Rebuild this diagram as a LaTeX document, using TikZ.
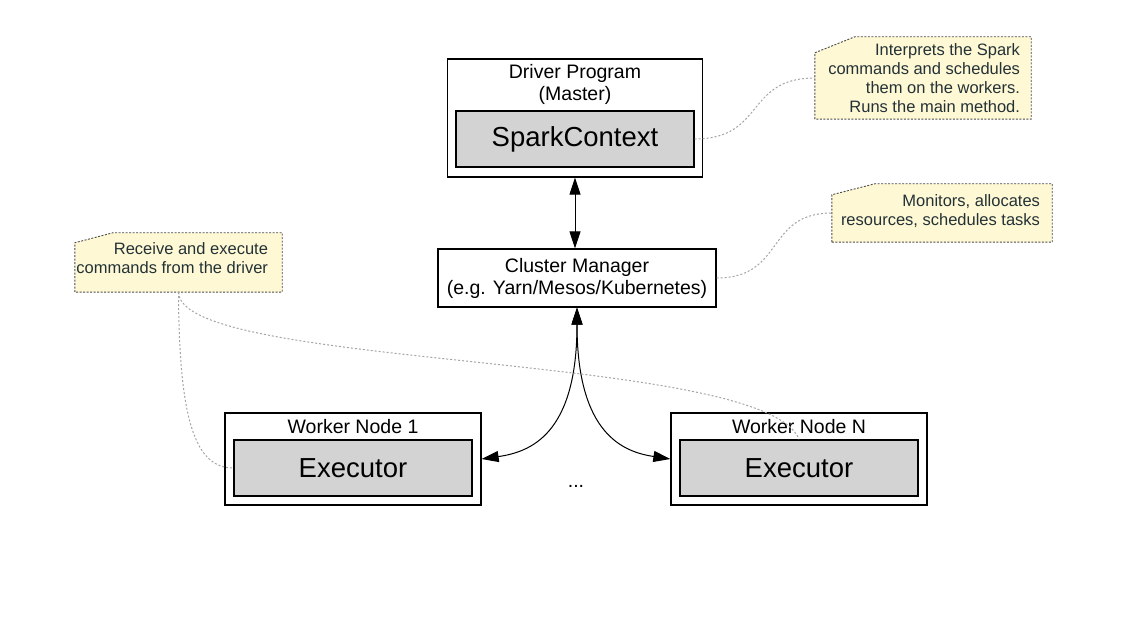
\documentclass[tikz,border=0pt]{standalone}
\usepackage{fontspec}
\setmainfont{Liberation Sans}
\usetikzlibrary{arrows.meta,calc}
\definecolor{notefill}{RGB}{255,248,212}
\definecolor{notetext}{RGB}{35,50,55}
\definecolor{boxgray}{RGB}{211,211,211}
\definecolor{dotgray}{RGB}{165,165,165}
\begin{document}
\begin{tikzpicture}[x=1pt,y=-1pt,
  outerbox/.style={draw=black,line width=1.3pt,fill=white,inner sep=0pt},
  innerbox/.style={draw=black,line width=1.3pt,fill=boxgray,inner sep=0pt,font=\fontsize{27.5}{32}\selectfont},
  lbl/.style={font=\fontsize{19.5}{22}\selectfont,align=center,inner sep=0pt},
  noteframe/.style={inner sep=0pt},
  noteshape/.style={draw=black!70,fill=notefill,line width=0.9pt,dash pattern=on 2pt off 1.5pt},
  notetxt/.style={font=\fontsize{16.5}{19}\selectfont,align=right,text=notetext,inner sep=0pt,anchor=east},
  conn/.style={draw=dotgray,line width=1pt,dash pattern=on 2pt off 2pt},
  tip/.tip={Triangle[length=17pt,width=11pt]},
  arr/.style={line width=1pt,tip-tip}
]
\useasboundingbox (0,0) rectangle (1122,620);
\fill[white] (0,0) rectangle (1122,620);

% driver
\node[outerbox,minimum width=255pt,minimum height=118pt] (driver) at (575,118) {};
\node[lbl] (drivert) at (575,84) {Driver Program\\(Master)};
\node[innerbox,minimum width=238pt,minimum height=56pt] (spark) at (575,139) {SparkContext};

% cluster manager
\node[outerbox,lbl,minimum width=278pt,minimum height=58pt] (cluster) at (577,278) {Cluster Manager\\(e.g. Yarn/Mesos/Kubernetes)};

% workers
\node[outerbox,minimum width=256pt,minimum height=92pt] (w1) at (353,459) {};
\node[lbl] (w1t) at (353,427) {Worker Node 1};
\node[innerbox,minimum width=238pt,minimum height=56pt] (e1) at (353,468) {Executor};

\node[outerbox,minimum width=256pt,minimum height=92pt] (wn) at (799,459) {};
\node[lbl] (wnt) at (799,427) {Worker Node N};
\node[innerbox,minimum width=238pt,minimum height=56pt] (en) at (799,468) {Executor};

\node[lbl] (dots) at (576,486) {...};

% notes
\node[noteframe,minimum width=216pt,minimum height=82pt] (n1) at (923,78) {};
\path[noteshape] (n1.south west) -- ([yshift=-16pt]n1.north west) -- ([xshift=40pt]n1.north west) -- (n1.north east) -- (n1.south east) -- cycle;
\node[notetxt] (n1t) at ([xshift=-11pt]n1.east) {Interprets the Spark\\commands and schedules\\them on the workers.\\Runs the main method.};

\node[noteframe,minimum width=220pt,minimum height=58pt] (n2) at (942,213) {};
\path[noteshape] (n2.south west) -- ([yshift=-11pt]n2.north west) -- ([xshift=43pt]n2.north west) -- (n2.north east) -- (n2.south east) -- cycle;
\node[notetxt] (n2t) at ([xshift=-12pt,yshift=2pt]n2.east) {Monitors, allocates\\resources, schedules tasks};

\node[noteframe,minimum width=207pt,minimum height=59pt] (n3) at (178.5,262.5) {};
\path[noteshape] (n3.south west) -- ([yshift=-10pt]n3.north west) -- ([xshift=38pt]n3.north west) -- (n3.north east) -- (n3.south east) -- cycle;
\node[notetxt] (n3t) at ([xshift=-14pt,yshift=4pt]n3.east) {Receive and execute\\commands from the driver};

% arrows
\draw[arr] (driver.south) -- (driver.south |- cluster.north);
\draw[arr] (w1.east) .. controls (530,452) and (577,435) .. (cluster.south);
\draw[arr] (wn.west) .. controls (624,452) and (577,435) .. (cluster.south);

% dotted connectors
\draw[conn] (spark.east) .. controls (765,139) and (745,78) .. (n1.west);
\draw[conn] (cluster.east) .. controls (785,278) and (765,213) .. (n2.west);
\draw[conn] (n3.south) .. controls (179,420) and (195,468) .. (e1.west);
\draw[conn] (n3.south) .. controls (180,370) and (765,352) .. (en.north);
\end{tikzpicture}
\end{document}
